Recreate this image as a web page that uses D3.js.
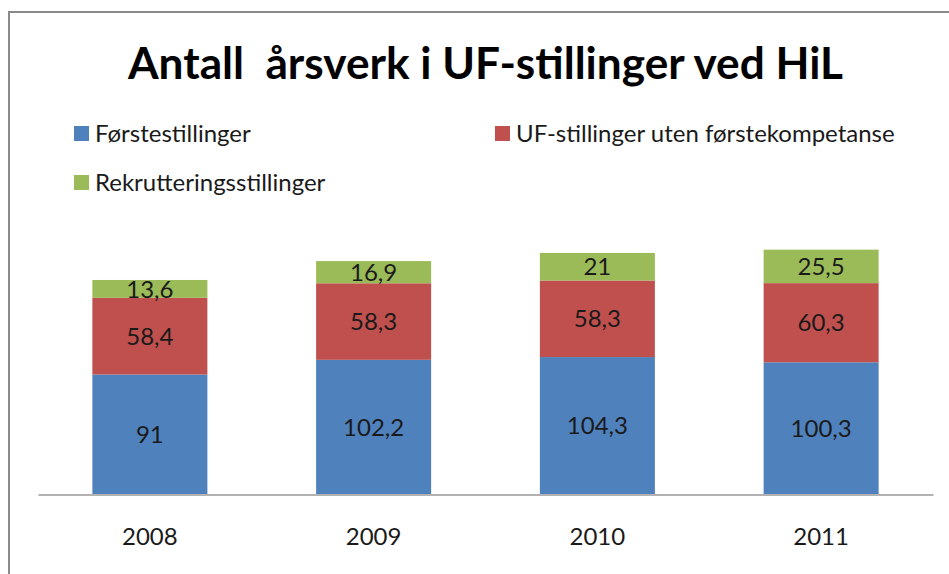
<!DOCTYPE html>
<html lang="no">
<head>
    <meta charset="UTF-8">
    <title>Antall årsverk i UF-stillinger ved HiL</title>
    <script src="https://d3js.org/d3.v7.min.js"></script>
    <style>
        body { margin: 0; background: #fff; font-family: Lato, "Open Sans", sans-serif; }
    </style>
</head>
<body>
    <div id="chart"></div>
    <script>
        // Data
        const years = ["2008", "2009", "2010", "2011"];
        const seriesNames = ["Førstestillinger", "UF-stillinger uten førstekompetanse", "Rekrutteringsstillinger"];
        const forste = [91, 102.2, 104.3, 100.3];
        const ufUten = [58.4, 58.3, 58.3, 60.3];
        const rekrutt = [13.6, 16.9, 21, 25.5];
        const colors = ["#4F81BD", "#C0504D", "#9BBB59"];

        const width = 949, height = 574;
        const svg = d3.select("#chart").append("svg")
            .attr("width", width)
            .attr("height", height);

        // outer border (only top and left visible)
        svg.append("path")
            .attr("d", "M9,574 V12 H949")
            .attr("fill", "none")
            .attr("stroke", "#8a8a8a")
            .attr("stroke-width", 2);

        // title (keep the double space)
        svg.append("text")
            .attr("x", 128).attr("y", 79)
            .attr("textLength", 715)
            .attr("lengthAdjust", "spacingAndGlyphs")
            .style("white-space", "pre")
            .style("font-size", "43px")
            .style("font-weight", "bold")
            .attr("fill", "#000")
            .text("Antall  årsverk i UF-stillinger ved HiL");

        // scales
        const x = d3.scaleBand().domain(years).range([38, 933])
            .paddingInner(0.486).paddingOuter(0.243);
        const y = d3.scaleLinear().domain([0, 200]).range([494, 231.4]);

        const rows = years.map((yr, i) => ({year: yr, s0: forste[i], s1: ufUten[i], s2: rekrutt[i]}));
        const stack = d3.stack().keys(["s0", "s1", "s2"])(rows);

        const layers = svg.selectAll(".layer").data(stack).enter().append("g")
            .attr("fill", (d, i) => colors[i]);

        layers.selectAll("rect").data(d => d).enter().append("rect")
            .attr("x", d => x(d.data.year))
            .attr("width", x.bandwidth())
            .attr("y", d => y(d[1]))
            .attr("height", d => y(d[0]) - y(d[1]));

        layers.selectAll("text").data(d => d).enter().append("text")
            .attr("x", d => x(d.data.year) + x.bandwidth() / 2)
            .attr("y", d => (y(d[0]) + y(d[1])) / 2)
            .attr("dy", "0.36em")
            .attr("text-anchor", "middle")
            .attr("fill", "#1a1a1a")
            .style("font-size", "24px")
            .text(d => String(+(d[1] - d[0]).toFixed(1)).replace(".", ","));

        // x axis
        const xAxis = svg.append("g")
            .attr("transform", "translate(0,494.5)")
            .call(d3.axisBottom(x).tickSize(0).tickPadding(33));
        xAxis.select(".domain").attr("stroke", "#999").attr("stroke-width", 1.5);
        xAxis.selectAll("text")
            .style("font-family", "Lato, sans-serif")
            .style("font-size", "24px")
            .attr("fill", "#1a1a1a");

        // legend
        const legendPos = [
            {x: 74, y: 126},
            {x: 495, y: 126},
            {x: 74, y: 175}
        ];
        const legend = svg.selectAll(".legend").data(seriesNames).enter().append("g")
            .attr("transform", (d, i) => `translate(${legendPos[i].x},${legendPos[i].y})`);
        legend.append("rect")
            .attr("width", 15).attr("height", 15)
            .attr("fill", (d, i) => colors[i]);
        legend.append("text")
            .attr("x", 21).attr("y", 16)
            .style("font-size", "24px")
            .attr("fill", "#1a1a1a")
            .text(d => d);
    </script>
</body>
</html>
